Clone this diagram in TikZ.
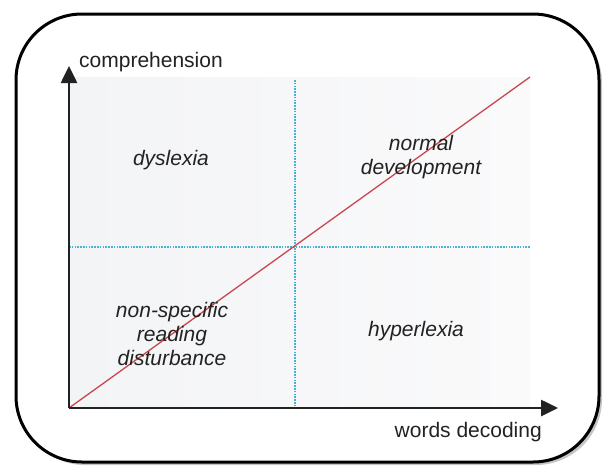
\documentclass[tikz,border=0pt]{standalone}
\usepackage{fontspec}
\setmainfont{Liberation Sans}
\usetikzlibrary{arrows.meta}
\definecolor{axisgray}{HTML}{222222}
\definecolor{panelfill}{HTML}{F3F4F6}
\definecolor{panelfade}{HTML}{FAFAFB}
\definecolor{diagred}{HTML}{C9474F}
\definecolor{gridcyan}{HTML}{4BB3D0}
\definecolor{textgray}{HTML}{222222}
\tikzset{
  axis/.style={line width=2.6pt, draw=axisgray, -{Triangle[length=17pt,width=16pt]}},
  grid line/.style={gridcyan, line width=1.6pt, dash pattern=on 1.6pt off 1.2pt},
  region/.style={font=\fontsize{21}{24}\selectfont\itshape, text=textgray, align=center, inner sep=0pt},
  axis label/.style={font=\fontsize{21}{24}\selectfont, text=textgray, inner sep=0pt},
}
\begin{document}
\begin{tikzpicture}[x=1pt, y=-1pt]
\useasboundingbox (0,0) rectangle (609,466);
% frame with a soft drop shadow
\fill[black!45, opacity=0.5, rounded corners=66pt] (19,17) rectangle (602,465);
\draw[line width=3pt, fill=white, rounded corners=66pt] (16,14) rectangle (599,462);
% key points of the chart
\coordinate (O) at (69,408);
\coordinate (ytop) at (69,66);
\coordinate (xend) at (558,408);
\coordinate (corner) at (530,77);
\coordinate (vtop) at (295,80);
\coordinate (vbot) at (295,408);
\coordinate (hleft) at (69,247);
\coordinate (hright) at (530,247);
% shaded plot area, fading slightly towards the upper right
\shade[left color=panelfill, right color=panelfade] (O) rectangle (corner);
% quadrant dividers
\draw[grid line] (vtop) -- (vbot);
\draw[grid line] (hleft) -- (hright);
% diagonal
\draw[diagred, line width=1.3pt] (O) -- (corner);
% axes
\draw[axis] (O) -- (ytop);
\draw[axis] (O) -- (xend);
% labels
\node[axis label, anchor=base west] (ylab) at (79,67) {comprehension};
\node[axis label, anchor=base east] (xlab) at (542,437) {words decoding};
\node[region] (dys) at (171,160) {dyslexia};
\node[region] (norm) at (421,157) {normal\\development};
\node[region] (nonspec) at (172,334) {non-specific\\reading\\disturbance};
\node[region] (hyper) at (416,331) {hyperlexia};
\end{tikzpicture}
\end{document}
